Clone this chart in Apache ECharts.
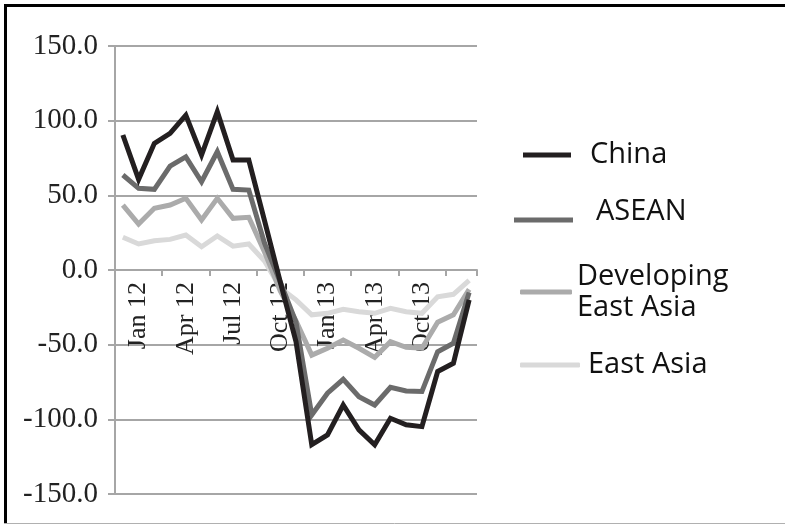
<!DOCTYPE html>
<html>
<head>
<meta charset="utf-8">
<script src="https://cdn.jsdelivr.net/npm/echarts@6/dist/echarts.min.js"></script>
<style>
  html, body { margin: 0; padding: 0; background: #fff; }
  #chart { width: 785px; height: 526px; }
</style>
</head>
<body>
<div id="chart"></div>
<script>
// Monthly categories (labels shown every third month)
const months = [
  'Dec 11', 'Jan 12', 'Feb 12', 'Mar 12', 'Apr 12', 'May 12', 'Jun 12', 'Jul 12',
  'Aug 12', 'Sep 12', 'Oct 12', 'Nov 12', 'Dec 12', 'Jan 13', 'Feb 13', 'Mar 13',
  'Apr 13', 'Jun 13', 'Aug 13', 'Oct 13', 'Nov 13', 'Dec 13', 'Jan 14'
];

const china = [90.4, 60.7, 84.8, 91.5, 103.7, 77, 106, 73.6, 73.6, 33, -8, -48,
  -117, -110.4, -90.4, -107, -117, -99.3, -103.7, -104.9, -68, -62.5, -20];
const asean = [63.6, 54.7, 54, 69.6, 75.8, 59.1, 79.2, 54, 53.5, 18, -8, -35,
  -97, -82.5, -73.2, -84.8, -90.4, -78.5, -81, -81.4, -54.7, -49, -15];
const developingEastAsia = [43.5, 30.8, 41.3, 43.5, 48, 33.5, 48, 34.6, 35.3, 12, -14, -34,
  -57, -52.4, -46.9, -52.4, -58.5, -48, -51.8, -52.4, -35, -30, -13];
const eastAsia = [21.9, 17.4, 19.6, 20.5, 23.4, 15.6, 22.8, 16, 17.4, 6, -12, -20,
  -30, -29, -26.3, -27.9, -29, -25.7, -27.9, -29, -17.9, -16.3, -7];

const yTicks = { min: -150, max: 150, step: 50 };

const gridGray = '#a6a6a6';
const serif = '"Liberation Serif", "Times New Roman", serif';
const sans = '"Open Sans", "Noto Sans", sans-serif';

const seriesDefs = [
  { name: 'China', data: china, color: '#231f20', z: 6 },
  { name: 'ASEAN', data: asean, color: '#6b6b6b', z: 5 },
  { name: 'Developing\nEast Asia', data: developingEastAsia, color: '#ababab', z: 4 },
  { name: 'East Asia', data: eastAsia, color: '#d9d9d9', z: 3 }
];

const legendText = (pad, lh) => ({
  fontFamily: sans, fontSize: 29, color: '#111', lineHeight: lh || 30, padding: pad
});

const W = 785, H = 526;
const grid = { left: 115, top: 46, right: 308, bottom: 32 };
// the category axis crosses the value axis at zero
const plotH = H - grid.top - grid.bottom;
const zeroOffset = -(0 - yTicks.min) / (yTicks.max - yTicks.min) * plotH;

const chart = echarts.init(document.getElementById('chart'), null, { renderer: 'canvas' });

chart.setOption({
  animation: false,
  backgroundColor: '#fff',
  grid: Object.assign({ containLabel: false, outerBoundsMode: 'none' }, grid),
  xAxis: {
    type: 'category',
    data: months,
    boundaryGap: true,
    position: 'bottom',
    offset: zeroOffset,
    axisLine: { onZero: false, lineStyle: { color: gridGray, width: 2 } },
    axisTick: { show: true, interval: 2, length: 6, lineStyle: { color: gridGray, width: 2 } },
    axisLabel: {
      interval: (i) => i % 3 === 1 && i < 20,
      rotate: 90,
      margin: 12,
      fontFamily: serif,
      fontSize: 26,
      color: '#222'
    },
    splitLine: { show: false }
  },
  yAxis: {
    type: 'value',
    min: yTicks.min,
    max: yTicks.max,
    interval: yTicks.step,
    axisLine: { show: true, lineStyle: { color: gridGray, width: 2 } },
    axisTick: { show: true, length: 7, lineStyle: { color: gridGray, width: 2 } },
    axisLabel: {
      formatter: (v) => v.toFixed(1),
      margin: 17,
      fontFamily: serif,
      fontSize: 29,
      color: '#222'
    },
    splitLine: { show: true, lineStyle: { color: gridGray, width: 2 } }
  },
  legend: [
    {
      data: ['China'], left: 523, top: 140, padding: 0, selectedMode: false,
      itemWidth: 48, itemHeight: 5, icon: 'rect',
      textStyle: legendText([0, 0, 0, 14])
    },
    {
      // icon drawn below its box centre so the swatch sits under the text
      data: ['ASEAN'], left: 514, top: 197, padding: 0, selectedMode: false,
      itemWidth: 59, itemHeight: 21, icon: 'path://M0,0M0,16L59,16L59,21L0,21Z',
      textStyle: legendText([0, 0, 0, 18])
    },
    {
      data: ['Developing\nEast Asia'], left: 520, top: 261, padding: 0, selectedMode: false,
      itemWidth: 52, itemHeight: 5, icon: 'roundRect',
      textStyle: legendText([0, 0, 0, 0], 31)
    },
    {
      data: ['East Asia'], left: 520, top: 350, padding: 0, selectedMode: false,
      itemWidth: 60, itemHeight: 5, icon: 'roundRect',
      textStyle: legendText([0, 0, 0, 3])
    }
  ],
  graphic: [
    { type: 'line', shape: { x1: 4, y1: 5.5, x2: 785, y2: 5.5 }, style: { stroke: '#000', lineWidth: 3 }, silent: true },
    { type: 'line', shape: { x1: 5.5, y1: 4, x2: 5.5, y2: 524 }, style: { stroke: '#000', lineWidth: 3 }, silent: true },
    { type: 'line', shape: { x1: 4, y1: 523.5, x2: 785, y2: 523.5 }, style: { stroke: '#b0b0b0', lineWidth: 1 }, silent: true }
  ],
  series: seriesDefs.map((s) => ({
    name: s.name,
    type: 'line',
    data: s.data,
    z: s.z,
    symbol: 'none',
    color: s.color,
    lineStyle: { color: s.color, width: 5, join: 'miter' },
    emphasis: { disabled: true }
  }))
});
</script>
</body>
</html>
